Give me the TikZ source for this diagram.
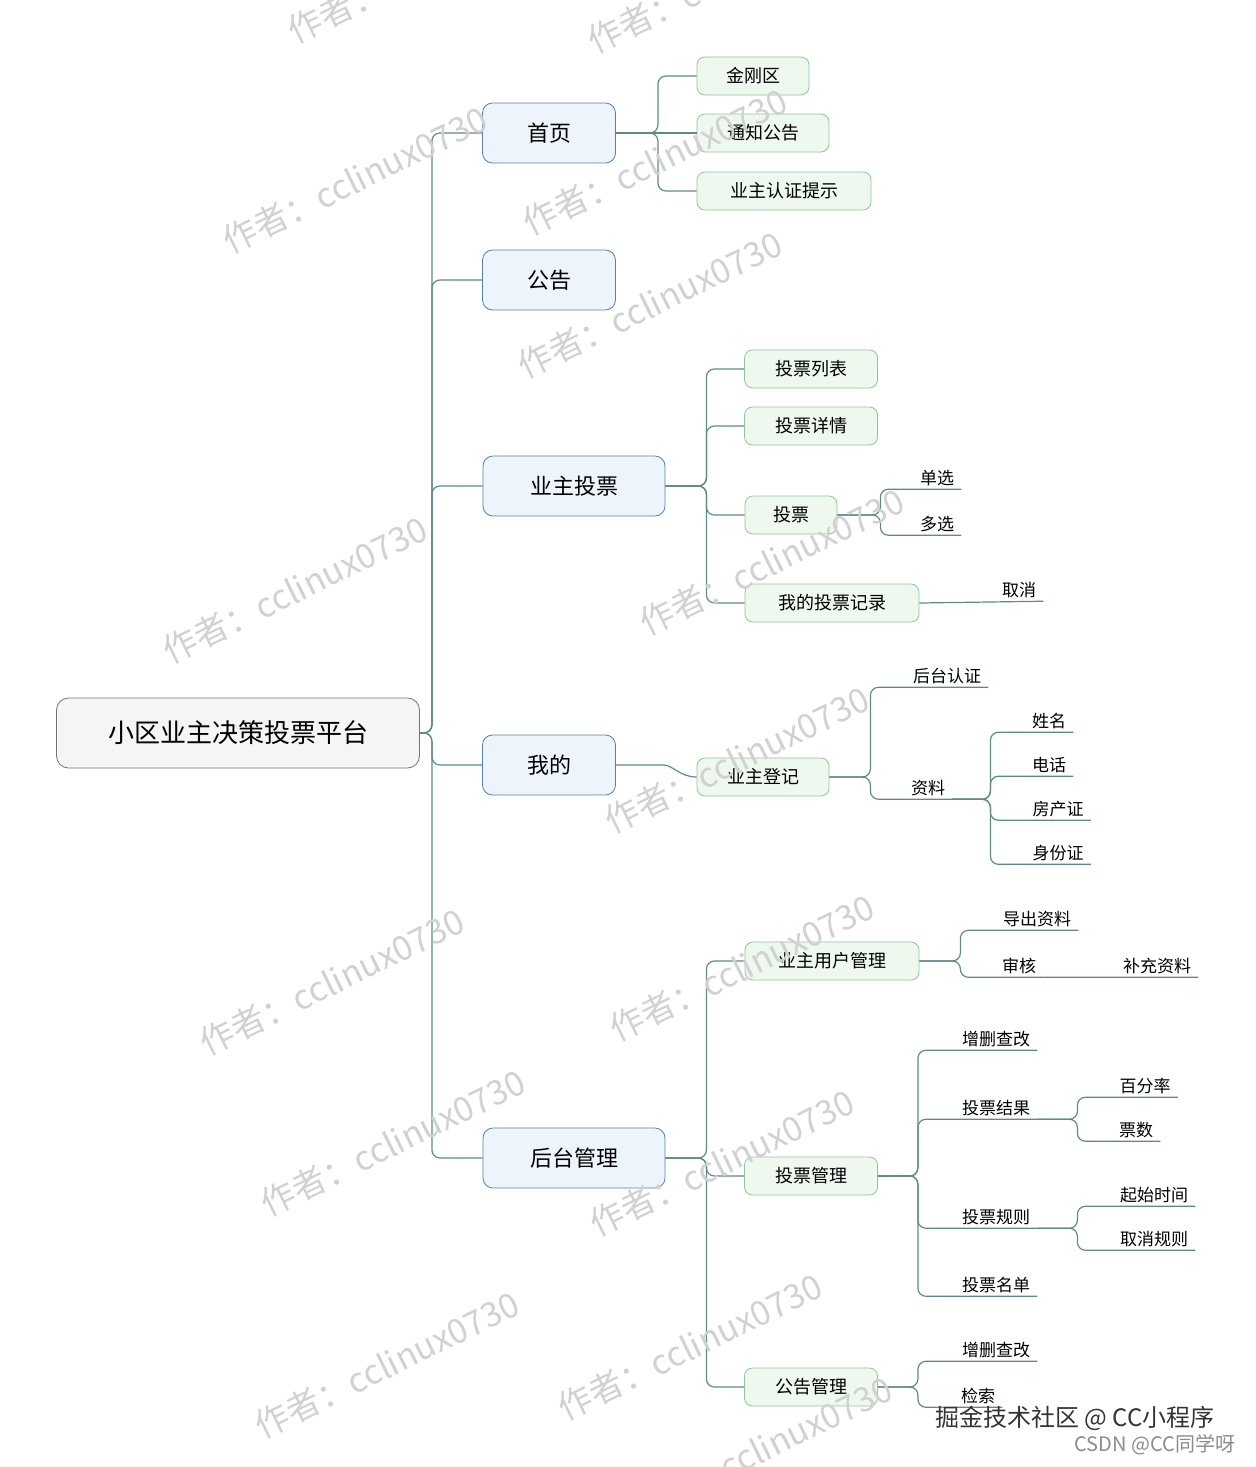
\documentclass[tikz,border=0pt]{standalone}
\usepackage{fontspec}
\setmainfont{Noto Sans CJK SC}
\usetikzlibrary{calc}
\definecolor{ln}{HTML}{5E8B8A}
\definecolor{bb}{HTML}{5A7FA8}
\definecolor{bf}{HTML}{EEF4FB}
\definecolor{gb}{HTML}{8CC79A}
\definecolor{gf}{HTML}{EEF8EF}
\tikzset{
 rootbox/.style={draw=black!55,fill=black!4,rounded corners=6,minimum width=363*0.5pt,minimum height=70*0.5pt,font=\fontsize{13}{15}\selectfont},
 lonebox/.style={draw=bb,fill=bf,rounded corners=5,minimum height=60*0.5pt,font=\fontsize{11}{13}\selectfont},
 ltwobox/.style={draw=gb,fill=gf,rounded corners=4,minimum height=38*0.5pt,font=\fontsize{9}{11}\selectfont},
 leaf/.style={inner sep=1.5pt,font=\fontsize{8.5}{10}\selectfont},
 con/.style={draw=ln,line width=0.6pt,rounded corners=4pt},
 wm/.style={text=black!18,font=\fontsize{17}{19}\selectfont,rotate=26}
}
% \leafcon{start}{branch dx}{leaf}
\newcommand{\leafcon}[3]{\draw[con] (#1) -- ++(#2,0) |- ($(#3.south east)+(4,0)$);}
\begin{document}
\begin{tikzpicture}[x=0.5pt,y=-0.5pt]
\useasboundingbox (0,0) rectangle (1256,1467);
\node[rootbox] (root) at (238,733) {小区业主决策投票平台};
\node[lonebox,minimum width=133*0.5pt] (a) at (549,133) {首页};
\node[lonebox,minimum width=133*0.5pt] (b) at (549,280) {公告};
\node[lonebox,minimum width=182*0.5pt] (c) at (574,486) {业主投票};
\node[lonebox,minimum width=133*0.5pt] (d) at (549,765) {我的};
\node[lonebox,minimum width=182*0.5pt] (e) at (574,1158) {后台管理};
\foreach \t in {a,b,c,d,e}{\draw[con] (root.east) -- ++(12,0) |- (\t.west);}
% 首页
\node[ltwobox,minimum width=112*0.5pt] (a1) at (753,76) {金刚区};
\node[ltwobox,minimum width=132*0.5pt] (a2) at (763,133) {通知公告};
\node[ltwobox,minimum width=174*0.5pt] (a3) at (784,191) {业主认证提示};
\foreach \t in {a1,a3}{\draw[con] (a.east) -- ++(42,0) |- (\t.west);}
\draw[con] (a.east) -- (a2.west);
% 业主投票
\node[ltwobox,minimum width=133*0.5pt] (c1) at (811,369) {投票列表};
\node[ltwobox,minimum width=133*0.5pt] (c2) at (811,426) {投票详情};
\node[ltwobox,minimum width=92*0.5pt] (c3) at (791,515) {投票};
\node[ltwobox,minimum width=174*0.5pt] (c4) at (832,603) {我的投票记录};
\foreach \t in {c1,c2,c3,c4}{\draw[con] (c.east) -- ++(41,0) |- (\t.west);}
\node[leaf] (c31) at (937,478) {单选};
\node[leaf] (c32) at (937,524) {多选};
\leafcon{c3.east}{43}{c31}
\leafcon{c3.east}{43}{c32}
\node[leaf] (c41) at (1019,590) {取消};
\draw[con] (c4.east) -- ($(c41.south east)+(4,0)$);
% 我的
\node[ltwobox,minimum width=132*0.5pt] (d1) at (763,777) {业主登记};
\draw[con] (d.east) -- ++(40,0) to[out=0,in=180] (d1.west);
\node[leaf] (d11) at (947,676) {后台认证};
\node[leaf] (d12) at (928,788) {资料};
\leafcon{d1.east}{41}{d11}
\leafcon{d1.east}{41}{d12}
\node[leaf] (d21) at (1049,721) {姓名};
\node[leaf] (d22) at (1049,765) {电话};
\node[leaf] (d23) at (1058,809) {房产证};
\node[leaf] (d24) at (1058,853) {身份证};
\coordinate (d12e) at ($(d12.south east)+(4,0)$);
\foreach \t in {d21,d22,d23,d24}{\leafcon{d12e}{38}{\t}}
% 后台管理
\node[ltwobox,minimum width=174*0.5pt] (e1) at (832,961) {业主用户管理};
\node[ltwobox,minimum width=133*0.5pt] (e2) at (811,1176) {投票管理};
\node[ltwobox,minimum width=133*0.5pt] (e3) at (811,1387) {公告管理};
\foreach \t in {e1,e2,e3}{\draw[con] (e.east) -- ++(41,0) |- (\t.west);}
\node[leaf] (e11) at (1037,919) {导出资料};
\node[leaf] (e12) at (1019,966) {审核};
\leafcon{e1.east}{41}{e11}
\leafcon{e1.east}{41}{e12}
\node[leaf] (e121) at (1157,966) {补充资料};
\draw[con] ($(e12.south east)+(4,0)$) -- ($(e121.south east)+(4,0)$);
\node[leaf] (e21) at (996,1039) {增删查改};
\node[leaf] (e22) at (996,1108) {投票结果};
\node[leaf] (e23) at (996,1217) {投票规则};
\node[leaf] (e24) at (996,1285) {投票名单};
\foreach \t in {e21,e22,e23,e24}{\leafcon{e2.east}{40}{\t}}
\node[leaf] (e221) at (1145,1086) {百分率};
\node[leaf] (e222) at (1136,1130) {票数};
\coordinate (e22e) at ($(e22.south east)+(4,0)$);
\leafcon{e22e}{40}{e221}
\leafcon{e22e}{40}{e222}
\node[leaf] (e231) at (1154,1195) {起始时间};
\node[leaf] (e232) at (1154,1239) {取消规则};
\coordinate (e23e) at ($(e23.south east)+(4,0)$);
\leafcon{e23e}{40}{e231}
\leafcon{e23e}{40}{e232}
\node[leaf] (e31) at (996,1350) {增删查改};
\node[leaf] (e32) at (978,1396) {检索};
\leafcon{e3.east}{40}{e31}
\leafcon{e3.east}{40}{e32}
% watermarks
\foreach \p in {(355,180),(655,162),(650,305),(295,590),(772,562),(737,760),(332,982),(742,968),(393,1143),(722,1163),(387,1365),(690,1347),(420,-30),(720,-20),(760,1450)}{
 \node[wm] at \p {作者：cclinux0730};}
\node[font=\fontsize{12}{14}\selectfont,text=black!80] (f1) at (1075,1418) {掘金技术社区 @ CC小程序};
\node[font=\fontsize{10}{12}\selectfont,text=black!45] (f2) at (1155,1445) {CSDN @CC同学呀};
\end{tikzpicture}
\end{document}
